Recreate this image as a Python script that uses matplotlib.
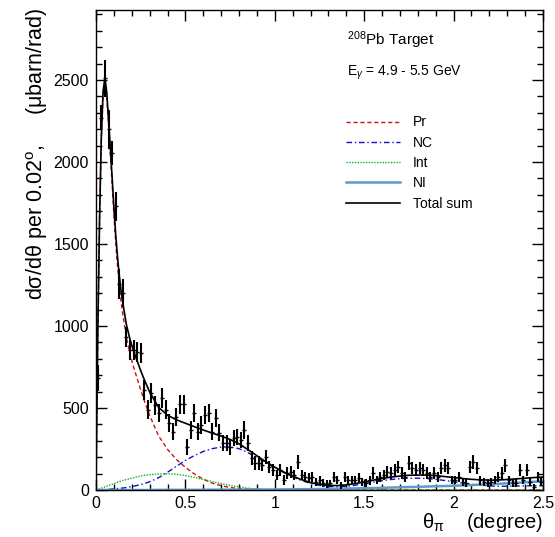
import numpy as np
import matplotlib
matplotlib.use("Agg")
import matplotlib.pyplot as plt
from matplotlib.ticker import MultipleLocator, FormatStrFormatter

plt.rcParams['font.family'] = ['Liberation Sans', 'DejaVu Sans']
plt.rcParams['mathtext.fontset'] = 'custom'
plt.rcParams['mathtext.rm'] = 'Liberation Sans'
plt.rcParams['mathtext.it'] = 'Liberation Sans:italic'
plt.rcParams['mathtext.bf'] = 'Liberation Sans:bold'

# ---------------- data ----------------
bin_width = 0.02
theta_data = np.round(np.arange(0.01, 2.5, bin_width), 3)

counts = [
    683, 2270, 2510, 2200, 2055, 1730, 1256, 1200, 933, 854,
    854, 842, 835, 610, 488, 591, 518, 469, 561, 488,
    408, 354, 445, 524, 524, 262, 366, 469, 354, 396,
    457, 469, 354, 439, 348, 287, 287, 262, 317, 323,
    305, 366, 287, 195, 165, 165, 152, 201, 140, 122,
    91, 122, 61, 104,
    110, 90, 171, 90, 79, 73, 79, 49, 61, 43,
    37, 40, 79, 61, 30, 79, 61, 61, 61, 73,
    49, 43, 60, 104, 61, 79, 91, 110, 104, 122,
    140, 104, 79, 165, 134, 122, 134, 122, 104, 79,
    104, 79, 134, 152, 134, 61, 61, 79, 50, 43,
    140, 171, 134, 60, 49, 43, 49, 61, 80, 104,
    150, 60, 43, 43, 122, 61, 122, 50, 18, 79, 49,
]
errors = [
    80, 75, 115, 120, 75, 90, 90, 85, 60, 60,
    60, 60, 60, 62, 58, 60, 58, 56, 60, 58,
    55, 52, 56, 58, 58, 48, 52, 56, 52, 54,
    56, 56, 52, 55, 52, 48, 48, 46, 50, 50,
    48, 52, 48, 42, 40, 40, 38, 42, 38, 36,
    33, 36, 30, 34,
    35, 32, 42, 32, 30, 29, 30, 25, 27, 24,
    23, 24, 30, 27, 21, 30, 27, 27, 27, 29,
    25, 24, 27, 34, 27, 30, 32, 35, 34, 37,
    39, 34, 30, 42, 38, 37, 38, 37, 34, 30,
    34, 30, 38, 40, 38, 27, 27, 30, 25, 24,
    39, 42, 38, 27, 25, 24, 25, 27, 30, 34,
    40, 27, 24, 24, 37, 27, 37, 25, 17, 30, 25,
]

theta_curve = [
    0.0, 0.005, 0.01, 0.02, 0.03, 0.04, 0.05, 0.06, 0.07, 0.08,
    0.09, 0.10, 0.11, 0.12, 0.13, 0.14, 0.15, 0.17, 0.19, 0.21,
    0.23, 0.25, 0.27, 0.30, 0.35, 0.40, 0.45, 0.50, 0.55, 0.60,
    0.65, 0.70, 0.75, 0.80, 0.85, 0.90, 0.95, 1.00, 1.05, 1.10,
    1.15, 1.20, 1.25, 1.30, 1.35, 1.40, 1.45, 1.50, 1.55, 1.60,
    1.65, 1.70, 1.75, 1.80, 1.85, 1.90, 1.95, 2.00, 2.05, 2.10,
    2.15, 2.20, 2.25, 2.30, 2.35, 2.40, 2.45, 2.50,
]
pr_curve = [
    0, 500, 950, 1650, 2150, 2420, 2490, 2400, 2230, 2050,
    1870, 1680, 1510, 1370, 1250, 1150, 1070, 930, 830, 750,
    680, 610, 545, 455, 330, 248, 186, 138, 98, 66,
    42, 26, 15, 9, 5, 3, 2, 1, 0, 0,
    0, 0, 0, 0, 0, 0, 0, 0, 0, 0,
    0, 0, 0, 0, 0, 0, 0, 0, 0, 0,
    0, 0, 0, 0, 0, 0, 0, 0,
]
nc_curve = [
    0, 0, 0, 1, 1, 2, 2, 3, 4, 5,
    6, 7, 8, 9, 10, 11, 12, 15, 19, 23,
    28, 33, 39, 50, 75, 108, 145, 180, 210, 235,
    252, 262, 263, 252, 228, 198, 166, 135, 106, 80,
    58, 40, 28, 21, 19, 22, 29, 38, 48, 57,
    64, 69, 72, 72, 70, 65, 58, 50, 42, 35,
    29, 25, 23, 23, 24, 25, 26, 26,
]
int_curve = [
    0, 1, 3, 7, 11, 15, 19, 23, 27, 31,
    35, 39, 43, 47, 51, 54, 58, 64, 70, 75,
    80, 85, 89, 93, 98, 99, 96, 88, 77, 64,
    51, 39, 28, 19, 11, 5, 1, 0, 0, 0,
    0, 0, 0, 0, 0, 0, 0, 0, 0, 0,
    0, 0, 0, 0, 0, 0, 0, 0, 0, 0,
    0, 0, 0, 0, 0, 0, 0, 0,
]
ni_curve = [
    0, 0, 0, 0, 0, 0, 0, 0, 0, 0,
    0, 0, 0, 0, 0, 0, 0, 0, 0, 0,
    0, 0, 0, 0, 1, 1, 1, 1, 1, 1,
    2, 2, 2, 2, 2, 3, 3, 3, 4, 4,
    5, 5, 6, 7, 8, 9, 10, 11, 12, 13,
    15, 16, 18, 19, 21, 23, 24, 26, 28, 30,
    33, 35, 38, 41, 44, 47, 50, 53,
]
total_curve = (np.array(pr_curve) + np.array(nc_curve)
               + np.array(int_curve) + np.array(ni_curve))

legend_labels = ["Pr", "NC", "Int", "NI", "Total sum"]

# ---------------- figure ----------------
W, H = 555, 537
fig = plt.figure(figsize=(W / 100, H / 100), dpi=100)
ax = fig.add_axes([96 / W, 47 / H, 447 / W, 480 / H])

l_pr, = ax.plot(theta_curve, pr_curve, color='#d01010', ls=(0, (3, 2)), lw=1.0)
l_nc, = ax.plot(theta_curve, nc_curve, color='#1010c8', ls=(0, (4, 2, 1, 2)), lw=1.0)
l_int, = ax.plot(theta_curve, int_curve, color='#10b010', ls=(0, (1, 1)), lw=1.0)
l_ni, = ax.plot(theta_curve, ni_curve, color='#5b9bd0', ls='-', lw=1.8)
l_tot, = ax.plot(theta_curve, total_curve, color='black', ls='-', lw=1.2)

ax.errorbar(theta_data, counts, yerr=errors, fmt='_', color='black',
            ms=3, mew=1.0, elinewidth=1.5, capsize=0, zorder=5)

ax.set_xlim(0, 2.5)
ax.set_ylim(0, 2927)
ax.xaxis.set_major_locator(MultipleLocator(0.5))
ax.xaxis.set_minor_locator(MultipleLocator(0.1))
ax.yaxis.set_major_locator(MultipleLocator(500))
ax.yaxis.set_minor_locator(MultipleLocator(100))
ax.xaxis.set_major_formatter(FormatStrFormatter('%g'))
ax.yaxis.set_major_formatter(FormatStrFormatter('%g'))
ax.tick_params(which='both', direction='in', top=True, right=True, width=1.0)
ax.tick_params(which='major', length=8, labelsize=11.5)
ax.tick_params(which='minor', length=4)
ax.tick_params(axis='x', pad=4)
ax.tick_params(axis='y', pad=5)
for s in ax.spines.values():
    s.set_linewidth(1.0)

fig.text(543 / W, 1 - 523 / H, r"$\mathrm{\theta_{\pi}}$    (degree)",
         ha='right', va='center', fontsize=14.5)
fig.text(37 / W, 1 - 8 / H,
         r"dσ/dθ per 0.02$^{\mathrm{o}}$,     (μbarn/rad)",
         rotation=90, ha='center', va='top', fontsize=15.5)

ax.text((347 - 96) / 447, (490 - 40) / 480, r"$^{208}$Pb Target",
        transform=ax.transAxes, ha='left', va='center', fontsize=11)
ax.text((347 - 96) / 447, (490 - 73) / 480, r"E$_{\gamma}$ = 4.9 - 5.5 GeV",
        transform=ax.transAxes, ha='left', va='center', fontsize=10)

leg = ax.legend([l_pr, l_nc, l_int, l_ni, l_tot], legend_labels,
                loc='upper left', bbox_to_anchor=((346 - 96) / 447, (490 - 115.5) / 480),
                frameon=False, fontsize=10, handlelength=3.9, handletextpad=0.9,
                labelspacing=0.45, borderpad=0, borderaxespad=0)

fig.savefig("out.png", dpi=100)
